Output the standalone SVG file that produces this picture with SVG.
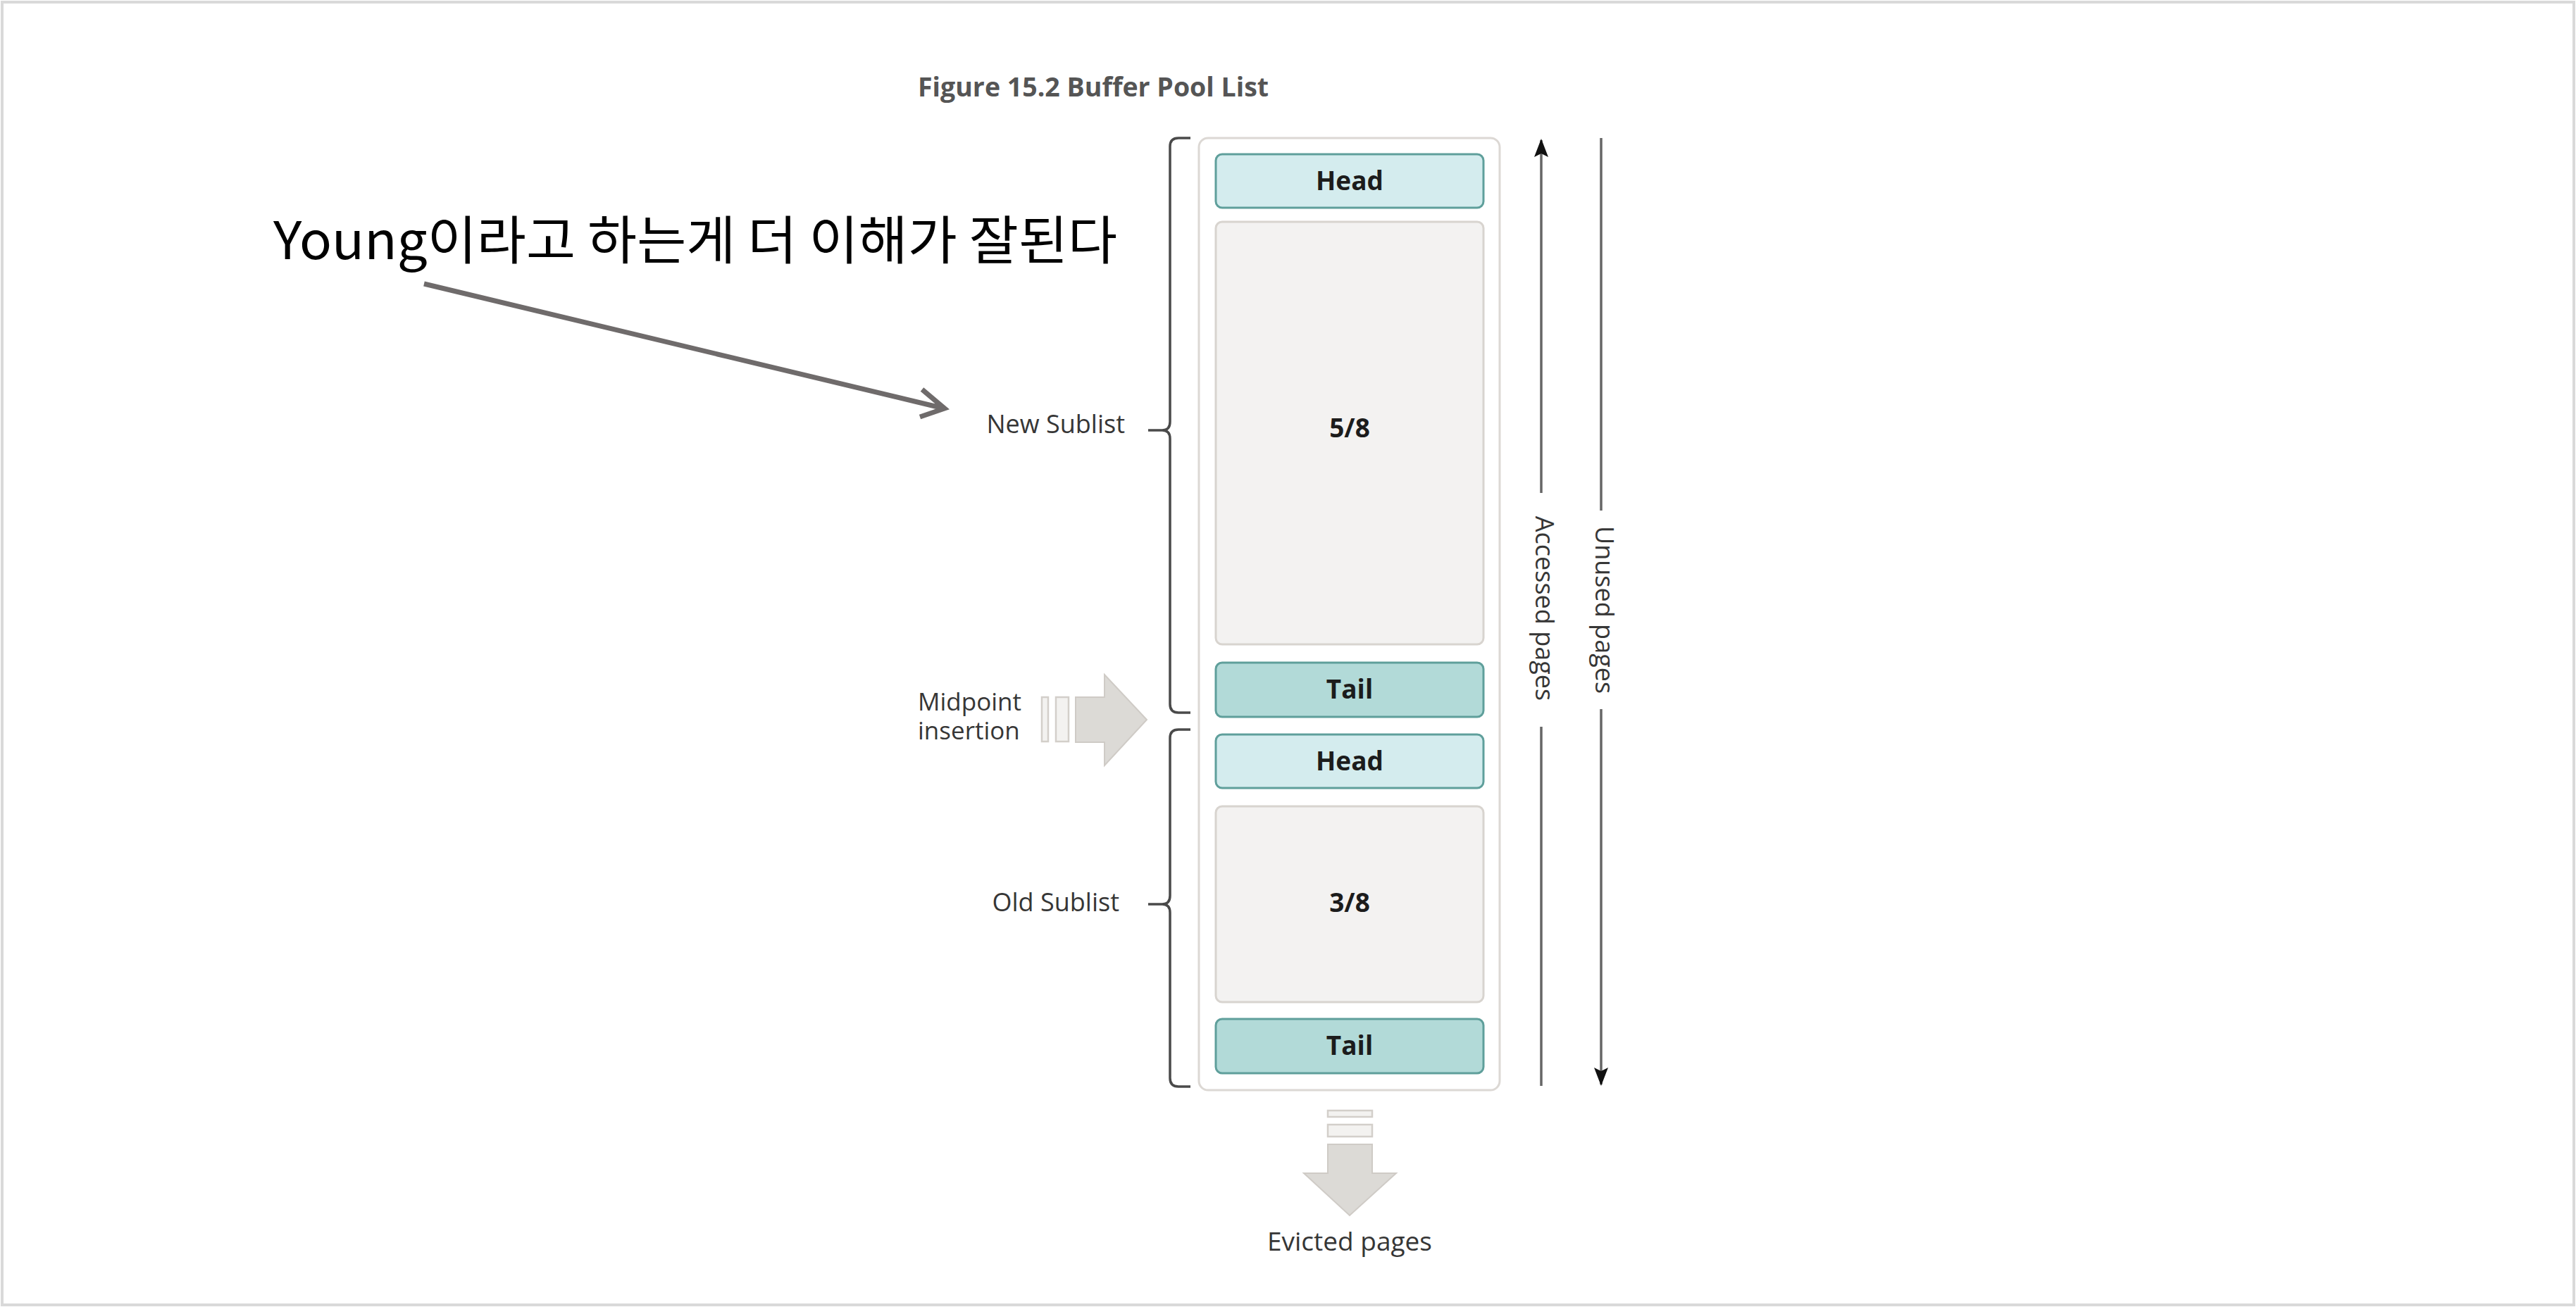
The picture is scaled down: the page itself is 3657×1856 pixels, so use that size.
<svg xmlns="http://www.w3.org/2000/svg" width="3657" height="1856" viewBox="0 0 3657 1856">
<style>
.lbl{font-family:"Open Sans","Noto Sans",sans-serif;font-size:36px;fill:#363636}
.box{font-family:"Open Sans","Noto Sans",sans-serif;font-size:37px;font-weight:700;fill:#1c1c1c;text-anchor:middle}
.head{fill:#d4ecee;stroke:#5f9f9b;stroke-width:3}
.tail{fill:#b2dad8;stroke:#5f9f9b;stroke-width:3}
.pages{fill:#f3f2f1;stroke:#d8d4cf;stroke-width:3}
.brace{fill:none;stroke:#4a4a4a;stroke-width:3.5}
.vline{fill:none;stroke:#666;stroke-width:3.5}
.big{fill:#dcdad6;stroke:#cfcbc6;stroke-width:2}
.bar{fill:#f3f2f0;stroke:#d3cfca;stroke-width:2.5}
</style>
<defs>
<marker id="tri" viewBox="0 0 26 20" refX="24" refY="10" markerWidth="26" markerHeight="20" markerUnits="userSpaceOnUse" orient="auto">
<path d="M0,0 L26,10 L0,20 L5,10 Z" fill="#111"/>
</marker>
</defs>
<rect x="0" y="0" width="3657" height="1856" fill="#fff"/>
<rect x="3" y="3" width="3651" height="1850" fill="none" stroke="#d9d9d9" stroke-width="4"/>

<g id="title"><text x="1303" y="137" style="font-family:'Open Sans','Noto Sans',sans-serif;font-size:37.5px;font-weight:700;fill:#555">Figure 15.2 Buffer Pool List</text></g>

<g id="annotation"><text x="388" y="368" textLength="1198" lengthAdjust="spacingAndGlyphs" style="font-family:'Noto Sans CJK KR','Noto Sans',sans-serif;font-size:74px;fill:#000">Young이라고 하는게 더 이해가 잘된다</text></g>

<g id="container"><rect x="1702" y="196" width="427" height="1352" rx="13" fill="#fff" stroke="#dcd8d4" stroke-width="3"/></g>

<g id="head-new"><rect class="head" x="1726" y="219" width="380" height="76" rx="9"/><text class="box" x="1916" y="270">Head</text></g>
<g id="pages-new"><rect class="pages" x="1726" y="315" width="380" height="600" rx="9"/><text class="box" x="1916" y="621">5/8</text></g>
<g id="tail-new"><rect class="tail" x="1726" y="941" width="380" height="77" rx="9"/><text class="box" x="1916" y="992">Tail</text></g>
<g id="head-old"><rect class="head" x="1726" y="1043" width="380" height="76" rx="9"/><text class="box" x="1916" y="1094">Head</text></g>
<g id="pages-old"><rect class="pages" x="1726" y="1145" width="380" height="278" rx="9"/><text class="box" x="1916" y="1295">3/8</text></g>
<g id="tail-old"><rect class="tail" x="1726" y="1447" width="380" height="77" rx="9"/><text class="box" x="1916" y="1498">Tail</text></g>

<g id="new-sublist">
<path class="brace" d="M1690,196 H1673 Q1661,196 1661,208 V599 Q1661,611 1650,611 H1630 M1650,611 Q1661,611 1661,623 V1000 Q1661,1012 1673,1012 H1690"/>
<text class="lbl" x="1597" y="615" text-anchor="end">New Sublist</text>
</g>
<g id="old-sublist">
<path class="brace" d="M1690,1036 H1673 Q1661,1036 1661,1048 V1272 Q1661,1284 1650,1284 H1630 M1650,1284 Q1661,1284 1661,1296 V1531 Q1661,1543 1673,1543 H1690"/>
<text class="lbl" x="1589" y="1294" text-anchor="end">Old Sublist</text>
</g>

<g id="midpoint-insertion">
<rect class="bar" x="1479" y="990" width="9" height="63"/>
<rect class="bar" x="1499" y="990" width="18" height="63"/>
<path class="big" d="M1527,990 H1568 V958 L1628,1022 L1568,1087 V1054 H1527 Z"/>
<text class="lbl" x="1303" y="1009" style="font-size:35px">Midpoint</text>
<text class="lbl" x="1303" y="1050" style="font-size:35px">insertion</text>
</g>

<g id="evicted-pages">
<rect class="bar" x="1885" y="1577" width="63" height="9"/>
<rect class="bar" x="1885" y="1597" width="63" height="17"/>
<path class="big" d="M1885,1625 H1948 V1666 H1982 L1916,1726 L1851,1666 H1885 Z"/>
<text class="lbl" x="1916" y="1776" text-anchor="middle" style="font-size:37px">Evicted pages</text>
</g>

<g id="accessed-pages">
<text class="lbl" transform="translate(2188,864) rotate(90)" x="0" y="8" text-anchor="middle">Accessed pages</text>
</g>
<g id="unused-pages">
<text class="lbl" transform="translate(2273,866) rotate(90)" x="0" y="8" text-anchor="middle">Unused pages</text>
</g>

<g id="connectors">
<path class="vline" d="M2188,1542 V1032"/>
<path class="vline" d="M2188,700 V199" marker-end="url(#tri)"/>
<path class="vline" d="M2273,196 V725"/>
<path class="vline" d="M2273,1007 V1540" marker-end="url(#tri)"/>
<path d="M602,403 L1340,580 M1309,553 L1341,580 L1306,592" fill="none" stroke="#6f6b6b" stroke-width="7" stroke-linecap="butt" stroke-linejoin="miter"/>
</g>
</svg>
